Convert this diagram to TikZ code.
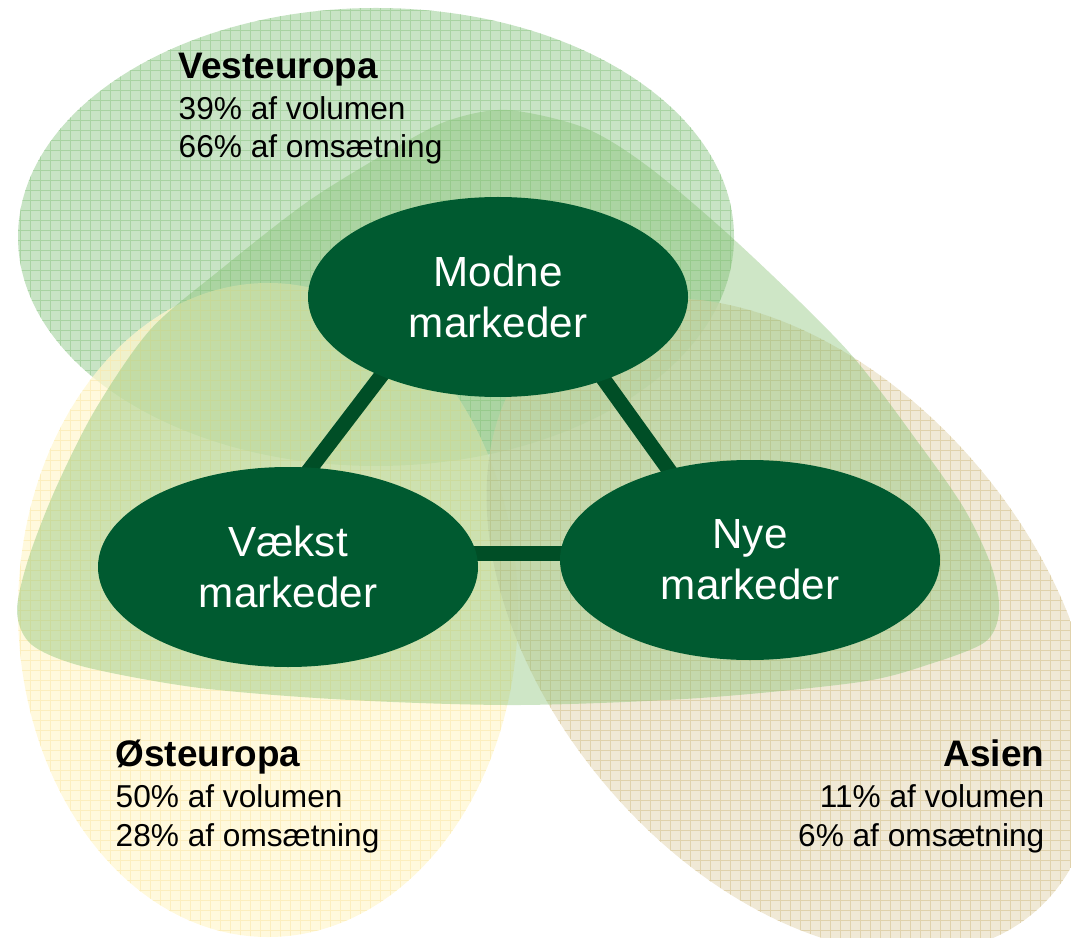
\documentclass[tikz,border=0pt]{standalone}
\usepackage{fontspec}
\setmainfont{Liberation Sans}
\usepackage{tikz}
\usetikzlibrary{shapes.geometric, backgrounds}

\definecolor{MarketGreen}{RGB}{0,90,48}
\definecolor{LinkGreen}{RGB}{0,78,38}
\definecolor{VestFill}{RGB}{200,228,197}
\definecolor{VestGrid}{RGB}{168,211,162}
\definecolor{OestFill}{RGB}{255,247,208}
\definecolor{OestGrid}{RGB}{252,235,178}
\definecolor{AsienFill}{RGB}{236,228,204}
\definecolor{AsienGrid}{RGB}{221,204,162}
\definecolor{TriFill}{RGB}{125,188,105}

\begin{document}
\begin{tikzpicture}[x=0.1mm, y=-0.1mm,
  market/.style ={ellipse, fill=MarketGreen, text=white, inner sep=0pt,
    outer sep=0pt, minimum width=38mm, minimum height=20mm, align=center,
    font=\fontsize{12}{14.5}\selectfont},
  %
  link/.style ={draw=LinkGreen, line width=1.5mm, shorten <=-2mm,
    shorten >=-2mm},
  %
  region/.style ={align=left, inner sep=0pt,
    font=\fontsize{9}{11}\selectfont},
  grid lines/.style ={line width=0.25pt, step=1mm} ]

  \useasboundingbox (0,0) rectangle (1071,938);

  % the three markets
  \node [market] (modne) at (498,297) {Modne\\markeder};
  \node [market] (vaekst) at (288,567) {V\ae kst\\markeder};
  \node [market] (nye) at (750,560) {Nye\\markeder};

  % region texts
  \node [region, anchor=north west] (vest) at (178,52)
    {{\fontsize{10.5}{12}\selectfont\bfseries Vesteuropa}\\[0.7pt]
     39\% af volumen\\ 66\% af oms\ae tning};
  \node [region, anchor=north west] (oest) at (115,739)
    {{\fontsize{10.5}{12}\selectfont\bfseries \O steuropa}\\[0.7pt]
     50\% af volumen\\ 28\% af oms\ae tning};
  \node [region, anchor=north east, align=right] (asien) at (1045,739)
    {{\fontsize{10.5}{12}\selectfont\bfseries Asien}\\[0.7pt]
     11\% af volumen\\ 6\% af oms\ae tning};

  \begin{scope}[on background layer]
    % Vesteuropa
    \begin{scope}
      \clip (376,237) ellipse [x radius=358, y radius=229];
      \fill [VestFill] (0,0) rectangle (1071,938);
      \draw [VestGrid, grid lines] (0,938) grid (1071,0);
    \end{scope}
    % Oesteuropa
    \begin{scope}[opacity=0.72]
      \clip (268,610) ellipse [x radius=250, y radius=327];
      \fill [OestFill] (0,0) rectangle (1071,938);
      \draw [OestGrid, grid lines] (0,938) grid (1071,0);
    \end{scope}
    % Asien
    \begin{scope}[opacity=0.8]
      \clip [rotate around={-50:(792,626)}] (792,626)
        ellipse [x radius=375, y radius=245];
      \fill [AsienFill] (0,0) rectangle (1071,938);
      \draw [AsienGrid, grid lines] (0,938) grid (1071,0);
    \end{scope}
    % rounded triangle
    \fill [TriFill, fill opacity=0.38] plot [smooth cycle] coordinates {
      (507,110) (585,128) (650,168) (740,245) (847,350) (920,445)
      (965,510) (992,568) (999,612) (985,642) (930,664) (860,682)
      (700,698) (520,705) (350,700) (200,688) (85,667) (32,645)
      (17,612) (28,560) (55,490) (95,410) (150,330) (220,270)
      (310,200) (400,145) (450,120)};
    % links
    \draw [link] (modne.214) -- (vaekst.77);
    \draw [link] (modne.322) -- (nye.132);
    \draw [link] (vaekst.4) -- (vaekst.4 -| nye.west);
  \end{scope}

\end{tikzpicture}
\end{document}
